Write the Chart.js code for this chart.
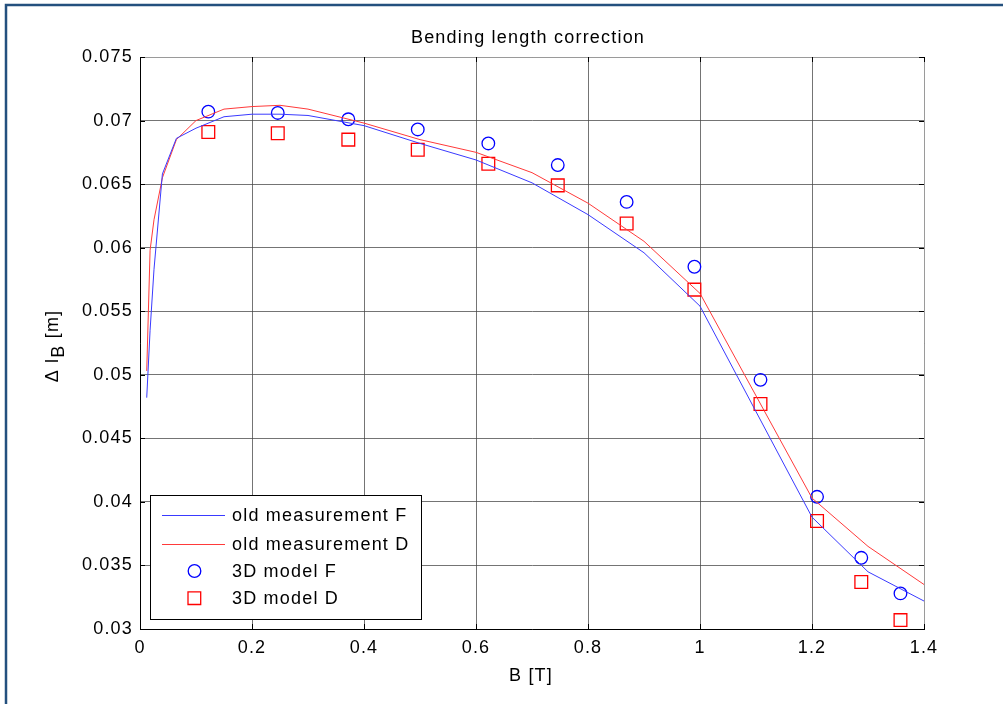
<!DOCTYPE html>
<html>
<head>
  <title>Bending length correction</title>
  <script src="https://cdn.jsdelivr.net/npm/chart.js"></script>
  <style>
    body { margin: 0; background: #fff; }
  </style>
</head>
<body>
  <canvas id="myChart" width="1003" height="704"></canvas>

  <script>
    // old measurements (lines)
    const lineB = [0.012, 0.018, 0.025, 0.04, 0.065, 0.1, 0.15, 0.2, 0.25, 0.3, 0.4, 0.5, 0.6, 0.7, 0.8, 0.9, 1.0, 1.2, 1.3, 1.4];
    const oldF  = [0.0482, 0.0535, 0.0583, 0.0658, 0.0686, 0.0694, 0.0703, 0.0705, 0.0705, 0.0704, 0.0696, 0.0682, 0.0669, 0.0651, 0.0626, 0.0596, 0.0554, 0.0388, 0.0345, 0.0322];
    const oldD  = [0.0503, 0.0598, 0.0622, 0.0655, 0.0685, 0.0700, 0.0709, 0.0711, 0.0712, 0.0709, 0.0698, 0.0685, 0.0675, 0.0659, 0.0635, 0.0605, 0.0564, 0.0403, 0.0365, 0.0335];

    // 3D model (markers)
    const modelB = [0.122, 0.246, 0.372, 0.496, 0.622, 0.746, 0.869, 0.99, 1.108, 1.209, 1.288, 1.358];
    const modelF = [0.0707, 0.0706, 0.0701, 0.0693, 0.0682, 0.0665, 0.0636, 0.0585, 0.0496, 0.0404, 0.0356, 0.0328];
    const modelD = [0.0691, 0.0690, 0.0685, 0.0677, 0.0666, 0.0649, 0.0619, 0.0567, 0.0477, 0.0385, 0.0337, 0.0307];

    const xTicks = [0, 0.2, 0.4, 0.6, 0.8, 1, 1.2, 1.4];
    const yTicks = [0.03, 0.035, 0.04, 0.045, 0.05, 0.055, 0.06, 0.065, 0.07, 0.075];

    const legendLabels = ['old measurement F', 'old measurement D', '3D model F', '3D model D'];

    const FONT = '"Liberation Sans", Arial, Helvetica, sans-serif';
    const pts = (xs, ys) => xs.map((x, i) => ({ x: x, y: ys[i] }));

    const matlabLook = {
      id: 'matlabLook',
      beforeDraw(chart) {
        const ctx = chart.ctx;
        ctx.letterSpacing = '1.2px';
        ctx.save();
        ctx.fillStyle = '#fff';
        ctx.fillRect(0, 0, chart.width, chart.height);
        ctx.strokeStyle = '#24507e';
        ctx.lineWidth = 2.5;
        ctx.strokeRect(6, 5, chart.width + 20, chart.height + 20);
        ctx.restore();
      },
      afterDatasetsDraw(chart) {
        const ctx = chart.ctx;
        const a = chart.chartArea;
        const xs = chart.scales.x, ys = chart.scales.y;
        ctx.save();
        // box top / right
        ctx.strokeStyle = '#9a9a9a';
        ctx.lineWidth = 1;
        ctx.beginPath();
        ctx.moveTo(a.left, a.top + 0.5); ctx.lineTo(a.right + 0.5, a.top + 0.5);
        ctx.lineTo(a.right + 0.5, a.bottom);
        ctx.stroke();
        // inside ticks
        ctx.strokeStyle = '#000';
        ctx.beginPath();
        xTicks.forEach(v => {
          const p = Math.round(xs.getPixelForValue(v)) + 0.5;
          ctx.moveTo(p, a.bottom); ctx.lineTo(p, a.bottom - 5);
          ctx.moveTo(p, a.top); ctx.lineTo(p, a.top + 5);
        });
        yTicks.forEach(v => {
          const p = Math.round(ys.getPixelForValue(v)) + 0.5;
          ctx.moveTo(a.left, p); ctx.lineTo(a.left + 5, p);
          ctx.moveTo(a.right, p); ctx.lineTo(a.right - 5, p);
        });
        ctx.stroke();

        // legend
        const lx = 150.5, ly = 495.5, lw = 271, lh = 124;
        ctx.fillStyle = '#fff';
        ctx.fillRect(lx, ly, lw, lh);
        ctx.strokeStyle = '#000';
        ctx.strokeRect(lx, ly, lw, lh);
        ctx.font = '18px ' + FONT;
        ctx.textBaseline = 'middle';
        ctx.textAlign = 'left';
        const rows = [515, 544, 571, 598];
        chart.data.datasets.forEach((ds, i) => {
          const y = rows[i];
          ctx.strokeStyle = ds.borderColor;
          ctx.lineWidth = 1;
          if (i < 2) {
            ctx.beginPath();
            ctx.moveTo(162, y + 0.5); ctx.lineTo(225, y + 0.5);
            ctx.stroke();
          } else {
            ctx.lineWidth = 1.3;
            ctx.beginPath();
            if (i === 2) ctx.arc(194.5, y, 6.3, 0, Math.PI * 2);
            else ctx.rect(188, y - 6.2, 12.7, 12.7);
            ctx.stroke();
          }
          ctx.fillStyle = '#000';
          ctx.fillText(legendLabels[i], 232, y + 1);
        });

        // title and axis labels
        ctx.textAlign = 'center';
        ctx.textBaseline = 'alphabetic';
        ctx.fillText('Bending length correction', 528, 43);
        ctx.fillText('B [T]', 531, 681);

        ctx.translate(58, 346);
        ctx.rotate(-Math.PI / 2);
        ctx.textAlign = 'left';
        const p1 = '\u0394 l', p2 = 'B', p3 = ' [m]';
        const w1 = ctx.measureText(p1).width, w2 = ctx.measureText(p2).width, w3 = ctx.measureText(p3).width;
        let x0 = -(w1 + w2 + w3) / 2;
        ctx.fillText(p1, x0, 0);
        ctx.fillText(p2, x0 + w1, 6);
        ctx.fillText(p3, x0 + w1 + w2, 0);
        ctx.restore();
      }
    };

    document.addEventListener('DOMContentLoaded', () => {
      const ctx = document.getElementById('myChart').getContext('2d');
      Chart.defaults.font.family = FONT;
      Chart.defaults.font.size = 18;
      Chart.defaults.color = '#000';

      new Chart(ctx, {
        type: 'scatter',
        data: {
          datasets: [
            { label: legendLabels[0], data: pts(lineB, oldF), showLine: true, borderColor: '#3a3aff', borderWidth: 1, pointRadius: 0 },
            { label: legendLabels[1], data: pts(lineB, oldD), showLine: true, borderColor: '#ff3a3a', borderWidth: 1, pointRadius: 0 },
            { label: legendLabels[2], data: pts(modelB, modelF), showLine: false, borderColor: '#0000ff', backgroundColor: 'rgba(0,0,0,0)', borderWidth: 1.3, pointStyle: 'circle', pointRadius: 6.3 },
            { label: legendLabels[3], data: pts(modelB, modelD), showLine: false, borderColor: '#ff0000', backgroundColor: 'rgba(0,0,0,0)', borderWidth: 1.3, pointStyle: 'rect', pointRadius: 9 }
          ]
        },
        options: {
          responsive: false,
          animation: false,
          devicePixelRatio: 1,
          layout: { padding: { top: 57, right: 79, left: 0, bottom: 0 } },
          plugins: {
            legend: { display: false },
            title: { display: false },
            tooltip: { enabled: false }
          },
          scales: {
            x: {
              type: 'linear',
              min: 0,
              max: 1.4,
              afterFit: s => { s.height = 75; },
              afterBuildTicks: s => { s.ticks = xTicks.map(v => ({ value: v })); },
              ticks: { padding: 8, maxRotation: 0, callback: v => String(+v.toFixed(1)) },
              grid: { color: 'rgba(70,70,70,0.75)', lineWidth: 1, drawTicks: false },
              border: { color: '#000', width: 1 }
            },
            y: {
              type: 'linear',
              min: 0.03,
              max: 0.075,
              afterFit: s => { s.width = 140; },
              afterBuildTicks: s => { s.ticks = yTicks.map(v => ({ value: v })); },
              ticks: { padding: 7, callback: v => String(+v.toFixed(3)) },
              grid: { color: 'rgba(70,70,70,0.75)', lineWidth: 1, drawTicks: false },
              border: { color: '#000', width: 1 }
            }
          }
        },
        plugins: [matlabLook]
      });
    });
  </script>
</body>
</html>
